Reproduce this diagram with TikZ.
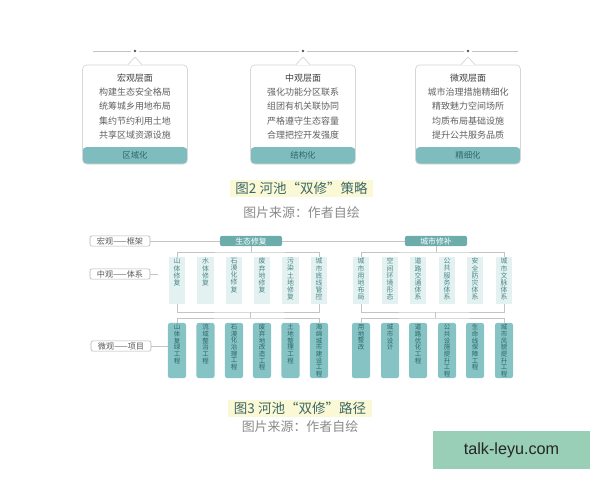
\documentclass[tikz,border=0pt]{standalone}
\usepackage{fontspec}
\setmainfont{Noto Sans CJK SC}
\newfontfamily\wmfont{Liberation Sans}
\XeTeXlinebreaklocale "zh"
\XeTeXlinebreakskip = 0pt plus 1pt
\definecolor{boxgray}{HTML}{D6D6D6}
\definecolor{linegray}{HTML}{C4C4C4}
\definecolor{dotgray}{HTML}{555555}
\definecolor{bandteal}{HTML}{7FBCBD}
\definecolor{bandtext}{HTML}{2F6A6B}
\definecolor{hdrteal}{HTML}{6CADAC}
\definecolor{colfill}{HTML}{E3F1F1}
\definecolor{coltext}{HTML}{4A8788}
\definecolor{projfill}{HTML}{86C3C4}
\definecolor{projtext}{HTML}{2D6668}
\definecolor{captext}{HTML}{3B6868}
\definecolor{capbg}{HTML}{FBF8D6}
\definecolor{srcgray}{HTML}{8A8A8A}
\definecolor{wmgreen}{HTML}{98CFB6}
\begin{document}
\begin{tikzpicture}[x=0.025cm, y=-0.025cm,
	topbox/.style={rectangle, rounded corners=3pt, draw=boxgray, fill=white, line width=0.5pt, minimum width=2.625cm, minimum height=2.475cm, path picture={\fill[bandteal] (path picture bounding box.south west) rectangle ([yshift=0.425cm]path picture bounding box.south east);}},
	boxtxt/.style={align=center, inner sep=0pt, font=\fontsize{6.4}{10.1}\selectfont, text=black!62},
	bandtxt/.style={inner sep=0pt, font=\fontsize{6}{7}\selectfont, text=bandtext},
	dot/.style={circle, fill=dotgray, inner sep=0pt, minimum size=0.07cm, outer sep=0.06cm},
	topline/.style={draw=linegray, line width=0.5pt},
	lvlbox/.style={rectangle, rounded corners=1.5pt, draw=black!30, fill=white, line width=0.4pt, minimum width=1.5cm, minimum height=0.26cm, inner sep=1pt, font=\fontsize{5.8}{6}\selectfont, text=black!65},
	hdrbox/.style={rectangle, rounded corners=1.5pt, fill=hdrteal, minimum width=1.55cm, minimum height=0.26cm, inner sep=1pt, font=\fontsize{5.6}{6}\selectfont, text=white},
	colbox/.style={rectangle, fill=colfill, minimum width=0.4cm, minimum height=1.175cm, inner sep=0pt},
	coltxt/.style={anchor=north, text width=5pt, align=center, inner sep=0.8pt, font=\fontsize{4.9}{5.1}\selectfont, text=coltext},
	projbox/.style={rectangle, rounded corners=1.5pt, fill=projfill, minimum width=0.45cm, minimum height=1.375cm, inner sep=0pt},
	projtxt/.style={anchor=north, text width=4.6pt, align=center, inner sep=1pt, font=\fontsize{4.6}{4.75}\selectfont, text=projtext},
	link/.style={draw=linegray, line width=0.5pt},
	capbox/.style={rectangle, fill=capbg, minimum width=3.575cm, minimum height=0.425cm, inner sep=0pt, font=\fontsize{9.6}{10}\selectfont, text=captext},
	srctxt/.style={inner sep=0pt, font=\fontsize{9.2}{10}\selectfont, text=srcgray},
	wmbox/.style={rectangle, fill=wmgreen, minimum width=3.925cm, minimum height=0.95cm, inner sep=0pt, font=\wmfont\fontsize{11.5}{12}\selectfont, text=black!85}]
	\useasboundingbox (0,0) rectangle (600,480);

	% top strategy line
	\coordinate (lineL) at (93,51);
	\coordinate (lineR) at (518,51);
	\node[dot](macroDot) at (135,51){};
	\node[dot](mesoDot) at (303,51){};
	\node[dot](microDot) at (468,51){};
	\draw[topline] (lineL) -- (macroDot);
	\draw[topline] (macroDot) -- (mesoDot);
	\draw[topline] (mesoDot) -- (microDot);
	\draw[topline] (microDot) -- (lineR);

	% strategy boxes
	\node[topbox](macro) at (135,114.5){};
	\node[topbox](meso) at (303,114.5){};
	\node[topbox](micro) at (468,114.5){};
	\foreach \b in {macro,meso,micro}{
		\fill[white] ([xshift=-0.17cm,yshift=-0.5pt]\b.north) rectangle ([xshift=0.17cm,yshift=0.5pt]\b.north);
		\filldraw[fill=white, draw=boxgray, line width=0.5pt] ([xshift=-0.175cm]\b.north) -- ([yshift=0.19cm]\b.north) -- ([xshift=0.175cm]\b.north);
	}
	\node[boxtxt](macroTxt) at (135,106.5){{\color{black!75}宏观层面}\\构建生态安全格局\\统筹城乡用地布局\\集约节约利用土地\\共享区域资源设施};
	\node[boxtxt](mesoTxt) at (303,106.5){{\color{black!75}中观层面}\\强化功能分区联系\\组团有机关联协同\\严格遵守生态容量\\合理把控开发强度};
	\node[boxtxt](microTxt) at (468,106.5){{\color{black!75}微观层面}\\城市治理措施精细化\\精致魅力空间场所\\均质布局基础设施\\提升公共服务品质};
	\node[bandtxt](macroBand) at (135,155.5){区域化};
	\node[bandtxt](mesoBand) at (303,155.5){结构化};
	\node[bandtxt](microBand) at (468,155.5){精细化};

	% figure 2 caption
	\node[capbox](cap2) at (301.5,188.5){图2 河池“双修”策略};
	\node[srctxt](src2) at (301.5,212.5){图片来源：作者自绘};

	% level labels
	\node[lvlbox](macroLbl) at (120,241){宏观——框架};
	\node[lvlbox](mesoLbl) at (120,274){中观——体系};
	\node[lvlbox](microLbl) at (121,346){微观——项目};

	% the two headers
	\node[hdrbox](eco) at (251,241){生态修复};
	\node[hdrbox](city) at (436,241){城市修补};
	\draw[link] (macroLbl) -- (eco);
	\draw[link] (eco) -- (city);

	% systems
	\foreach \i/\x/\t in {1/177/山体修复, 2/205.5/水体修复, 3/234/石漠化修复, 4/262/废弃地修复, 5/290.5/污染土地修复, 6/319/城市底线管控}
		\node[colbox, label={[coltxt]north:\t}](e\i) at (\x,280.5){};
	\foreach \i/\x/\t in {1/361/城市用地布局, 2/390/空间环境形态, 3/418/道路交通体系, 4/447/公共服务体系, 5/475/安全防灾体系, 6/504/城市文脉体系}
		\node[colbox, label={[coltxt]north:\t}](c\i) at (\x,280.5){};

	% projects
	\foreach \i/\x/\t in {1/177/山体复绿工程, 2/205.5/流域整治工程, 3/234/石漠化治理工程, 4/262/废弃地改造工程, 5/290.5/土地整理工程, 6/319/海绵城市建设工程}
		\node[projbox, label={[projtxt]north:\t}](p\i) at (\x,350.5){};
	\foreach \i/\x/\t in {1/361/用地整改, 2/390/城市设计, 3/418/道路优化工程, 4/447/公共设施提升工程, 5/475/生命线保障工程, 6/504/城市风貌提升工程}
		\node[projbox, label={[projtxt]north:\t}](q\i) at (\x,350.5){};

	% draw header brackets
	\coordinate (ecoTop) at (251,252);
	\coordinate (cityTop) at (436,252);
	\draw[link] (eco.south) -- (ecoTop);
	\draw[link] (e1.north) |- (ecoTop) -| (e6.north);
	\draw[link] (city.south) -- (cityTop);
	\draw[link] (c1.north) |- (cityTop) -| (c6.north);

	% draw project brackets
	\coordinate (ecoMidA) at (250,312);
	\coordinate (ecoMidB) at (250,318);
	\coordinate (cityMidA) at (435,312);
	\coordinate (cityMidB) at (435,318);
	\draw[link] (e1.south) |- (ecoMidA) -| (e6.south);
	\draw[link] (ecoMidA) -- (ecoMidB);
	\draw[link] (p1.north) |- (ecoMidB) -| (p6.north);
	\draw[link] (c1.south) |- (cityMidA) -| (c6.south);
	\draw[link] (cityMidA) -- (cityMidB);
	\draw[link] (q1.north) |- (cityMidB) -| (q6.north);

	% level stubs
	\coordinate (mesoEnd) at (158,274);
	\draw[link] (mesoLbl) -- (mesoEnd);
	\draw[link] (microLbl.east) -- (microLbl.east -| p1.west);

	% figure 3 caption
	\node[capbox](cap3) at (300,408){图3 河池“双修”路径};
	\node[srctxt](src3) at (300,427){图片来源：作者自绘};

	% watermark
	\node[wmbox](wm) at (511.5,450){talk-leyu.com};
\end{tikzpicture}
\end{document}
